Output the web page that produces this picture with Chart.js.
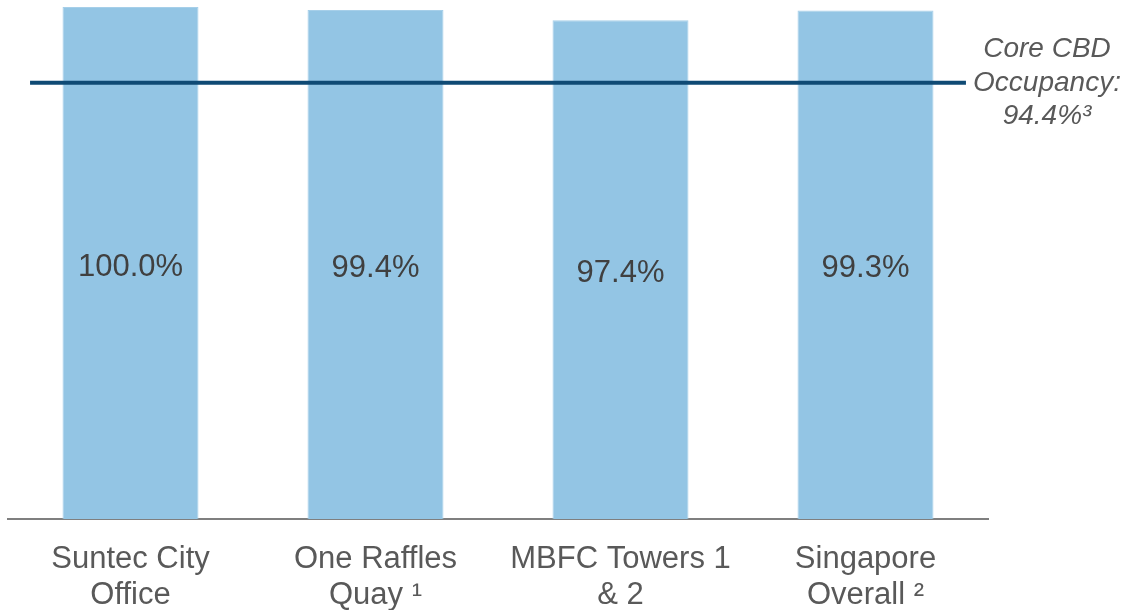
<!DOCTYPE html>
<html>
<head>
<meta charset="utf-8">
<script src="https://cdn.jsdelivr.net/npm/chart.js@4/dist/chart.umd.min.js"></script>
<style>
  html, body { margin: 0; padding: 0; background: #ffffff; }
  #wrap { width: 1127px; height: 610px; position: relative; }
</style>
</head>
<body>
<div id="wrap"><canvas id="c" width="1127" height="610"></canvas></div>
<script>
// ---- data ----
const categories = [
  ["Suntec City", "Office"],
  ["One Raffles", "Quay \u00b9"],
  ["MBFC Towers 1", "& 2"],
  ["Singapore", "Overall \u00b2"]
];
const occupancy = [100.0, 99.4, 97.4, 99.3];
// reference line (drawn at its position in the picture) and its label
const coreLineLevel = 85.2;
const coreLineSpan = [-0.41, 3.41];   // in category-index units
const coreLabelLines = ["Core CBD", "Occupancy:", "94.4%\u00b3"];

const FONT = "'Liberation Sans', Arial, sans-serif";

const labelPlugin = {
  id: 'labels',
  afterDatasetsDraw(chart) {
    const ctx = chart.ctx;
    const meta = chart.getDatasetMeta(0);
    ctx.save();
    ctx.font = "31px " + FONT;
    ctx.fillStyle = "#404040";
    ctx.textAlign = "center";
    ctx.textBaseline = "middle";
    meta.data.forEach((bar, i) => {
      const y = (bar.y + bar.base) / 2 + 4;
      ctx.fillText(occupancy[i].toFixed(1) + "%", bar.x, y);
    });
    // right-hand label for the core CBD line
    const ly = chart.scales.y.getPixelForValue(coreLineLevel);
    ctx.font = "italic 28px " + FONT;
    ctx.fillStyle = "#595959";
    const cx = chart.chartArea.right + 59;
    coreLabelLines.forEach((t, k) => {
      ctx.fillText(t, cx, ly + (k - 1) * 33.5);
    });
    ctx.restore();
  }
};

new Chart(document.getElementById('c'), {
  type: 'bar',
  data: {
    labels: categories,
    datasets: [
      {
        type: 'bar',
        data: occupancy,
        backgroundColor: '#93c5e4',
        borderColor: '#a6cfe9',
        borderWidth: 1,
        grouped: false,
        barPercentage: 0.555,
        categoryPercentage: 1.0,
        order: 1,
        xAxisID: 'x',
        yAxisID: 'y'
      },
      {
        type: 'line',
        data: [
          { x: coreLineSpan[0], y: coreLineLevel },
          { x: coreLineSpan[1], y: coreLineLevel }
        ],
        borderColor: '#0f4a74',
        borderWidth: 4,
        pointRadius: 0,
        fill: false,
        order: 0,
        xAxisID: 'x2',
        yAxisID: 'y'
      }
    ]
  },
  options: {
    responsive: false,
    animation: false,
    devicePixelRatio: 1,
    layout: { padding: { left: 8, right: 139, top: 7, bottom: 0 } },
    plugins: {
      legend: { display: false },
      tooltip: { enabled: false },
      title: { display: false }
    },
    scales: {
      x: {
        type: 'category',
        offset: true,
        grid: { display: false },
        border: { display: true, color: '#7f7f7f', width: 2 },
        ticks: {
          color: '#595959',
          font: { family: FONT, size: 31, lineHeight: 1.17 },
          padding: 14,
          maxRotation: 0,
          autoSkip: false
        },
        afterFit(scale) { scale.height = 91; }
      },
      x2: {
        type: 'linear',
        display: false,
        offset: false,
        min: -0.5,
        max: 3.5
      },
      y: {
        display: false,
        min: 0,
        max: 100
      }
    }
  },
  plugins: [labelPlugin]
});
</script>
</body>
</html>
